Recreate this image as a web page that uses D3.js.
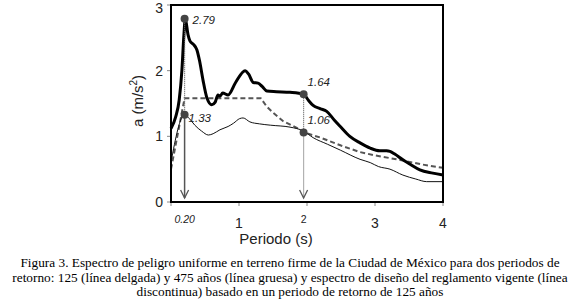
<!DOCTYPE html>
<html>
<head>
<meta charset="utf-8">
<script src="https://cdn.jsdelivr.net/npm/d3@7"></script>
<style>
  body { margin: 0; background: #fff; }
  svg { display: block; }
</style>
</head>
<body>
<div id="chart"></div>
<script>
// periodo T (s), aceleracion a (m/s2)
const thick475 = [
  [0, 1.12], [0.07, 1.3], [0.12, 1.55], [0.16, 2.0], [0.19, 2.55], [0.21, 2.79],
  [0.25, 2.55], [0.28, 2.45], [0.33, 2.4], [0.38, 2.32], [0.42, 2.15], [0.47, 1.86],
  [0.53, 1.58], [0.6, 1.48], [0.65, 1.52], [0.69, 1.63], [0.72, 1.61], [0.76, 1.66],
  [0.84, 1.63], [0.95, 1.82], [1.09, 2.0], [1.14, 1.95], [1.21, 1.82], [1.28, 1.81],
  [1.34, 1.76], [1.41, 1.69], [1.55, 1.68], [1.75, 1.67], [1.95, 1.64], [2.02, 1.55],
  [2.09, 1.47], [2.2, 1.42], [2.29, 1.38], [2.4, 1.25], [2.49, 1.15], [2.63, 1.0],
  [2.78, 0.9], [2.93, 0.82], [3.07, 0.78], [3.17, 0.78], [3.22, 0.77], [3.29, 0.73],
  [3.4, 0.65], [3.51, 0.58], [3.66, 0.49], [3.85, 0.44], [4.0, 0.41]
];
const thin125 = [
  [0, 0.61], [0.2, 1.33], [0.27, 1.27], [0.35, 1.17], [0.45, 1.08], [0.55, 1.02],
  [0.62, 1.04], [0.72, 1.1], [0.84, 1.15], [0.92, 1.2], [1.01, 1.27], [1.06, 1.28],
  [1.16, 1.22], [1.3, 1.19], [1.46, 1.17], [1.75, 1.14], [1.95, 1.08], [2.09, 0.98],
  [2.3, 0.88], [2.49, 0.79], [2.78, 0.65], [2.93, 0.6], [3.05, 0.54], [3.22, 0.5],
  [3.41, 0.41], [3.6, 0.35], [3.76, 0.31], [4.0, 0.31]
];
const design = [
  [0, 0.5], [0.2, 1.58], [1.32, 1.58], [1.41, 1.45], [1.5, 1.36], [1.65, 1.23],
  [1.85, 1.13], [1.95, 1.06], [2.2, 0.98], [2.5, 0.86], [2.78, 0.76], [3.0, 0.71],
  [3.37, 0.64], [3.7, 0.57], [4.0, 0.52]
];

const markT = [0.2, 1.95];
const markHigh = [2.79, 1.64];
const markLow = [1.33, 1.06];
const markTickLabels = ["0.20", "2"];

const xTicks = [0, 1, 2, 3, 4];
const xTickLabels = [1, 3, 4];
const yTicks = [0, 1, 2, 3];

const captionLines = [
  "Figura 3. Espectro de peligro uniforme en terreno firme de la Ciudad de México para dos periodos de",
  "retorno: 125 (línea delgada) y 475 años (línea gruesa) y espectro de diseño del reglamento vigente (línea",
  "discontinua) basado en un periodo de retorno de 125 años"
];

const W = 580, H = 306;
const svg = d3.select("#chart").append("svg")
  .attr("width", W).attr("height", H);

const x = d3.scaleLinear().domain([0, 4]).range([171, 443]);
const y = d3.scaleLinear().domain([0, 3]).range([202, 5]);

// ticks
svg.append("g").selectAll("line").data(yTicks).enter().append("line")
  .attr("x1", x(0) - 4).attr("x2", x(0))
  .attr("y1", d => y(d)).attr("y2", d => y(d))
  .attr("stroke", "#888").attr("stroke-width", 1);
svg.append("g").selectAll("line").data(xTicks).enter().append("line")
  .attr("x1", d => x(d)).attr("x2", d => x(d))
  .attr("y1", y(0)).attr("y2", y(0) + 4)
  .attr("stroke", "#888").attr("stroke-width", 1);

svg.append("g").selectAll("text").data(yTicks).enter().append("text")
  .attr("x", 163).attr("y", d => Math.max(y(d) + 5, 13))
  .attr("text-anchor", "end")
  .attr("font-family", "Liberation Sans, Arial, sans-serif")
  .attr("font-size", 14).attr("fill", "#222")
  .text(d => d);
svg.append("g").selectAll("text").data(xTickLabels).enter().append("text")
  .attr("x", d => x(d)).attr("y", 228)
  .attr("text-anchor", "middle")
  .attr("font-family", "Liberation Sans, Arial, sans-serif")
  .attr("font-size", 14).attr("fill", "#222")
  .text(d => d);
svg.append("g").selectAll("text").data(markT).enter().append("text")
  .attr("x", d => x(d)).attr("y", 223)
  .attr("text-anchor", "middle")
  .attr("font-family", "Liberation Sans, Arial, sans-serif")
  .attr("font-size", 10.5).attr("fill", "#222")
  .attr("font-style", (d, i) => i === 0 ? "italic" : "normal")
  .text((d, i) => markTickLabels[i]);

// axis titles
svg.append("text")
  .attr("x", 276).attr("y", 244)
  .attr("text-anchor", "middle")
  .attr("font-family", "Liberation Sans, Arial, sans-serif")
  .attr("font-size", 15).attr("fill", "#222")
  .text("Periodo (s)");
const yt = svg.append("text")
  .attr("transform", "translate(143,101) rotate(-90)")
  .attr("text-anchor", "middle")
  .attr("font-family", "Liberation Sans, Arial, sans-serif")
  .attr("font-size", 15).attr("fill", "#222");
yt.append("tspan").text("a (m/s");
yt.append("tspan").attr("font-size", 10).attr("dy", -6).text("2");
yt.append("tspan").attr("dy", 6).text(")");

// curves
const line = d3.line().x(d => x(d[0])).y(d => y(d[1]));
const smooth = d3.line().x(d => x(d[0])).y(d => y(d[1])).curve(d3.curveMonotoneX);

svg.append("path").datum(design).attr("d", line)
  .attr("fill", "none").attr("stroke", "#555").attr("stroke-width", 2)
  .attr("stroke-dasharray", "5,3");
svg.append("path").datum(thin125).attr("d", smooth)
  .attr("fill", "none").attr("stroke", "#111").attr("stroke-width", 1);
svg.append("path").datum(thick475).attr("d", smooth)
  .attr("fill", "none").attr("stroke", "#000").attr("stroke-width", 3)
  .attr("stroke-linejoin", "round");

// vertical markers with arrow heads
markT.forEach((t, i) => {
  const px = x(t), tip = y(0) - 4;
  svg.append("line")
    .attr("x1", px).attr("x2", px)
    .attr("y1", y(markHigh[i])).attr("y2", y(markLow[i]))
    .attr("stroke", "#666").attr("stroke-width", 1.2)
    .attr("stroke-dasharray", "1,1");
  svg.append("line")
    .attr("x1", px).attr("x2", px)
    .attr("y1", y(markLow[i])).attr("y2", tip)
    .attr("stroke", i === 0 ? "#555" : "#666")
    .attr("stroke-width", i === 0 ? 1.5 : 1.2)
    .attr("stroke-dasharray", i === 0 ? null : "1,1");
  svg.append("path")
    .attr("d", `M${px - 4},${tip - 8} L${px},${tip} L${px + 4},${tip - 8}`)
    .attr("fill", "none").attr("stroke", "#555").attr("stroke-width", 1.3);
});

const dots = markT.flatMap((t, i) => [[t, markHigh[i], i === 0 ? 5 : -8], [t, markLow[i], i === 0 ? 7 : -8]]);
svg.append("g").selectAll("circle").data(dots).enter().append("circle")
  .attr("cx", d => x(d[0])).attr("cy", d => y(d[1])).attr("r", 4)
  .attr("fill", "#444");
svg.append("g").selectAll("text").data(dots).enter().append("text")
  .attr("x", (d, i) => x(d[0]) + (i === 0 ? 8 : 4)).attr("y", d => y(d[1]) + d[2])
  .attr("font-family", "Liberation Sans, Arial, sans-serif")
  .attr("font-style", "italic")
  .attr("font-size", 11.5).attr("fill", "#222")
  .text(d => d[1].toFixed(2));

// frame
svg.append("rect")
  .attr("x", x(0)).attr("y", y(3))
  .attr("width", x(4) - x(0)).attr("height", y(0) - y(3))
  .attr("fill", "none").attr("stroke", "#000").attr("stroke-width", 2);

// caption
svg.append("g").selectAll("text").data(captionLines).enter().append("text")
  .attr("x", 290).attr("y", (d, i) => 267 + i * 14.5)
  .attr("text-anchor", "middle")
  .attr("font-family", "Liberation Serif, Times New Roman, serif")
  .attr("font-size", 13.3).attr("fill", "#000")
  .text(d => d);
</script>
</body>
</html>
